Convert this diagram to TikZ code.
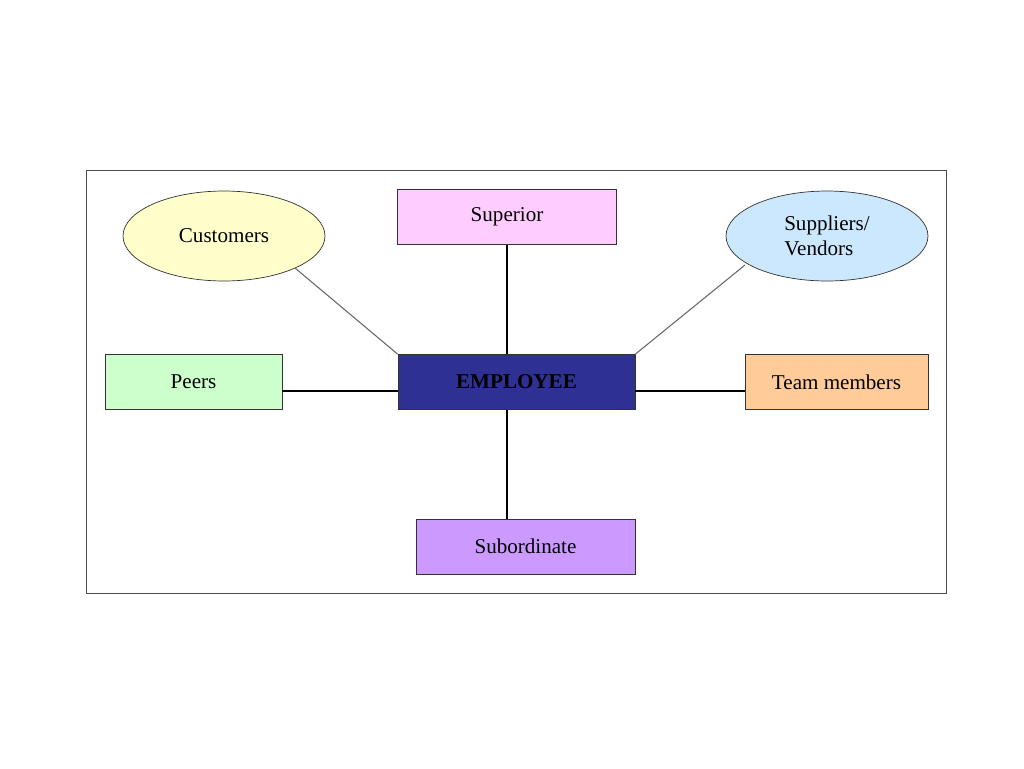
\documentclass[tikz,border=0pt]{standalone}
\usepackage{fontspec}
\setmainfont{Liberation Serif}
\usetikzlibrary{shapes,positioning,calc}
\definecolor{cust}{HTML}{FFFFCC}
\definecolor{supr}{HTML}{FFCCFF}
\definecolor{supl}{HTML}{CCE8FF}
\definecolor{peer}{HTML}{CCFFCC}
\definecolor{team}{HTML}{FFCC99}
\definecolor{emp}{HTML}{2E3192}
\definecolor{subo}{HTML}{CC99FF}
\tikzstyle{box}=[rectangle, draw=black!80, minimum height=1.1cm, font=\large]
\tikzstyle{oval}=[ellipse, draw=black!80, minimum width=4.04cm, minimum height=1.8cm, font=\large, align=left]
\tikzstyle{l1}=[line width=0.6pt]

\begin{document}
\begin{tikzpicture}[x=0.02cm, y=-0.02cm]
    \useasboundingbox (0,0) rectangle (1024,768);
    \draw[black!70] (86,170) rectangle (946,593);

    \node (cust) [oval, fill=cust] at (224,236) {Customers};
    \node (supr) [box, fill=supr, minimum width=4.38cm] at (507,217) {Superior};
    \node (supl) [oval, fill=supl] at (827,236) {Suppliers/\\Vendors};
    \node (peer) [box, fill=peer, minimum width=3.54cm] at (193.5,382) {Peers};
    \node (emp) [box, fill=emp, minimum width=4.74cm, font=\large\bfseries] at (516.5,382) {EMPLOYEE};
    \node (team) [box, fill=team, minimum width=3.66cm] at (836.5,382) {Team members};
    \node (subo) [box, fill=subo, minimum width=4.38cm] at (525.5,546.5) {Subordinate};

    \coordinate (c1) at (295,268);
    \coordinate (c2) at (745,265);
    \draw[l1, black!60] (c1) -- (emp.north west);
    \draw[l1, black!60] (c2) -- (emp.north east);
    \draw[l1] (supr.south) -- (supr.south |- emp.north);
    \draw[l1] ($(peer.east)+(0,9)$) -- ($(emp.west)+(0,9)$);
    \draw[l1] ($(emp.east)+(0,9)$) -- ($(team.west)+(0,9)$);
    \draw[l1] (emp.south -| supr.south) -- (subo.north -| supr.south);
\end{tikzpicture}
\end{document}
